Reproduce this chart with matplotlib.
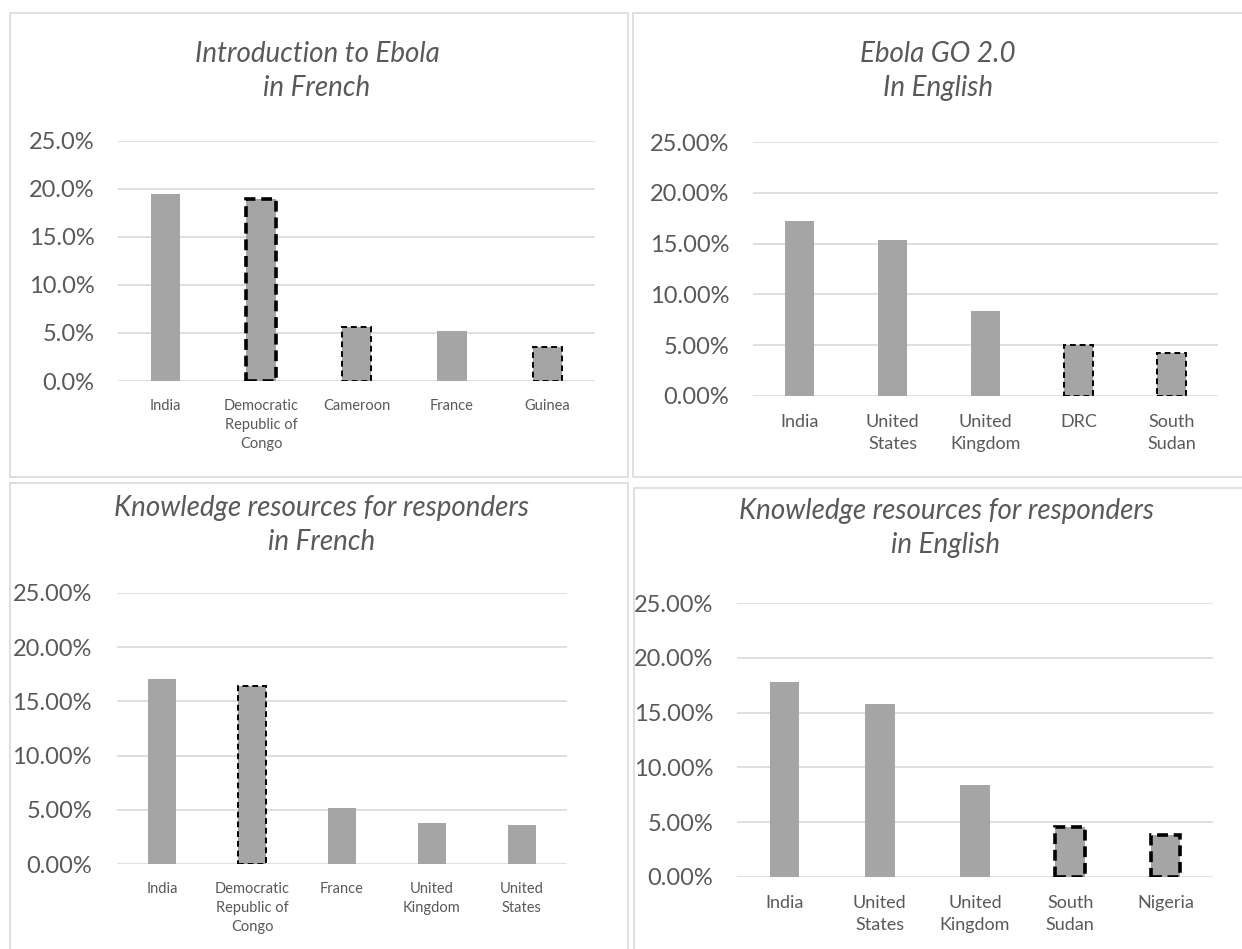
import matplotlib
matplotlib.use("Agg")
import matplotlib.pyplot as plt
from matplotlib.patches import Rectangle
from matplotlib.ticker import FuncFormatter

# Share of learners by country, four courses
intro_fr_countries = ["India", "Democratic\nRepublic of\nCongo", "Cameroon", "France", "Guinea"]
intro_fr_share = [19.5, 18.9, 5.65, 5.2, 3.57]

go_en_countries = ["India", "United\nStates", "United\nKingdom", "DRC", "South\nSudan"]
go_en_share = [17.24, 15.36, 8.39, 5.0, 4.24]

kr_fr_countries = ["India", "Democratic\nRepublic of\nCongo", "France", "United\nKingdom", "United\nStates"]
kr_fr_share = [17.02, 16.44, 5.21, 3.8, 3.62]

kr_en_countries = ["India", "United\nStates", "United\nKingdom", "South\nSudan", "Nigeria"]
kr_en_share = [17.77, 15.76, 8.35, 4.57, 3.84]

W, H = 1242, 949
TEXT = "#595959"
GRID = "#D9D9D9"
BAR = "#A5A5A5"
FONT = "Lato"

plt.rcParams["font.family"] = [FONT, "DejaVu Sans"]

fig = plt.figure(figsize=(W / 100, H / 100), dpi=100)
fig.patch.set_facecolor("white")


def px_axes(left, top, right, bottom):
    return fig.add_axes([left / W, 1 - bottom / H, (right - left) / W, (bottom - top) / H])


def px_box(x0, y0, x1, y1):
    fig.patches.append(Rectangle((x0 / W, 1 - y1 / H), (x1 - x0) / W, (y1 - y0) / H,
                                 transform=fig.transFigure, fill=False,
                                 edgecolor=GRID, linewidth=1.2))


def title(cx, y1, y2, line1, line2):
    for y, s in ((y1, line1), (y2, line2)):
        fig.text(cx / W, 1 - y / H, s, ha="center", va="center", fontsize=20,
                 style="italic", color=TEXT)


def panel(ax, countries, share, decimals, xfont, ypad, outlines):
    x = range(len(countries))
    bars = ax.bar(x, share, width=0.31, color=BAR, zorder=3)
    # dashed outlines on highlighted bars: index -> (linewidth, dash pattern)
    for i, (lw, dashes) in outlines.items():
        b = bars[i]
        b.set_edgecolor("black")
        b.set_linewidth(lw)
        b.set_linestyle((0, dashes))
    ax.set_xlim(-0.5, len(countries) - 0.5)
    ax.set_ylim(0, 25)
    ax.set_yticks([0, 5, 10, 15, 20, 25])
    ax.yaxis.set_major_formatter(FuncFormatter(lambda v, p: f"{v:.{decimals}f}%"))
    ax.set_xticks(list(x))
    ax.set_xticklabels(countries, fontsize=xfont, color=TEXT, linespacing=1.45)
    ax.tick_params(axis="x", length=0, pad=13)
    ax.tick_params(axis="y", length=0, pad=ypad, labelsize=17, labelcolor=TEXT)
    ax.grid(axis="y", color=GRID, linewidth=1.2, zorder=0)
    ax.set_axisbelow(True)
    for s in ax.spines.values():
        s.set_visible(False)
    ax.set_facecolor("none")


# panel frames
px_box(10, 13, 628, 477)
px_box(633, 13, 1260, 477)
px_box(10, 483, 628, 970)
px_box(634, 488, 1260, 970)

thick = (2.6, (3, 1.6))
thin = (1.4, (3, 2))

ax1 = px_axes(118, 140.7, 595, 381)
panel(ax1, intro_fr_countries, intro_fr_share, 1, 10.5, 17, {1: thick, 2: thin, 4: thin})
title(317, 54, 88, "Introduction to Ebola", "in French")

ax2 = px_axes(753, 142.3, 1218, 395.7)
panel(ax2, go_en_countries, go_en_share, 2, 13, 17, {3: thin, 4: thin})
title(938, 54, 88, "Ebola GO 2.0", "In English")

ax3 = px_axes(117, 592.7, 567, 864.3)
panel(ax3, kr_fr_countries, kr_fr_share, 2, 10.5, 18, {1: thin})
title(322, 508, 542, "Knowledge resources for responders", "in French")

ax4 = px_axes(737, 603.3, 1213, 876.7)
panel(ax4, kr_en_countries, kr_en_share, 2, 13, 17, {3: thick, 4: thick})
title(946, 511, 545, "Knowledge resources for responders", "in English")

fig.savefig("out.png", dpi=100, facecolor="white")
